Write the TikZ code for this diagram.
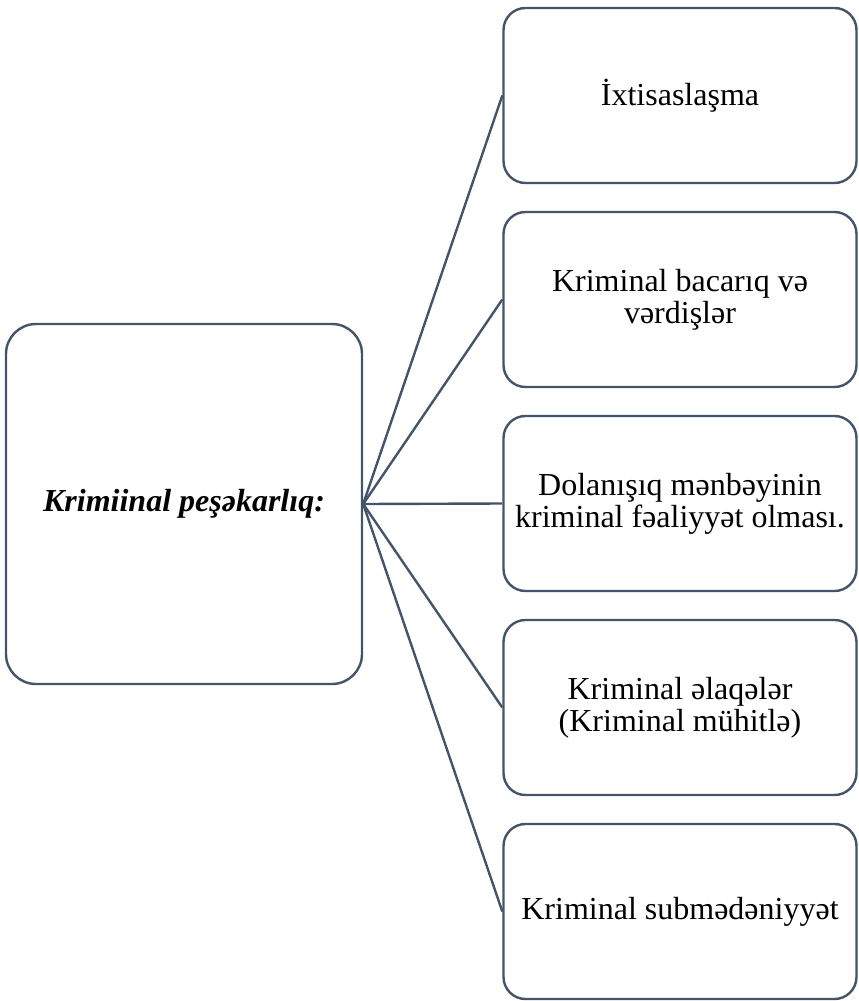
\documentclass[tikz,border=0pt]{standalone}
\usepackage{fontspec}
\setmainfont{Liberation Serif}
\usetikzlibrary{positioning}
\definecolor{cLine}{RGB}{68,84,106}
\tikzset{
  root/.style={draw=cLine, line width=2.4pt, rounded corners=30pt,
               minimum width=356pt, minimum height=360pt, align=center,
               font=\fontsize{32}{32}\selectfont\bfseries\itshape},
  leaf/.style={draw=cLine, line width=2.4pt, rounded corners=22pt,
               minimum width=353pt, minimum height=175pt, align=center,
               font=\fontsize{32}{32}\selectfont},
  link/.style={draw=cLine, line width=2.4pt},
}

\begin{document}
\begin{tikzpicture}[x=1pt, y=1pt, node distance=26.6pt]
  \useasboundingbox (0,0) rectangle (859,-1001);
  \node[root] (krim) at (184,-504) {Krimiinal peşəkarlıq:};
  \node[leaf] (ixt) at (680,-95.5) {İxtisaslaşma};
  \node[leaf, below=of ixt] (bac) {Kriminal bacarıq və\\ vərdişlər};
  \node[leaf, below=of bac] (dol) {Dolanışıq mənbəyinin\\ kriminal fəaliyyət olması.};
  \node[leaf, below=of dol] (ela) {Kriminal əlaqələr\\ (Kriminal mühitlə)};
  \node[leaf, below=of ela] (sub) {Kriminal submədəniyyət};
  \foreach \n in {ixt,bac,dol,ela,sub}
    \draw[link] (krim.east) -- (\n.west);
\end{tikzpicture}
\end{document}
